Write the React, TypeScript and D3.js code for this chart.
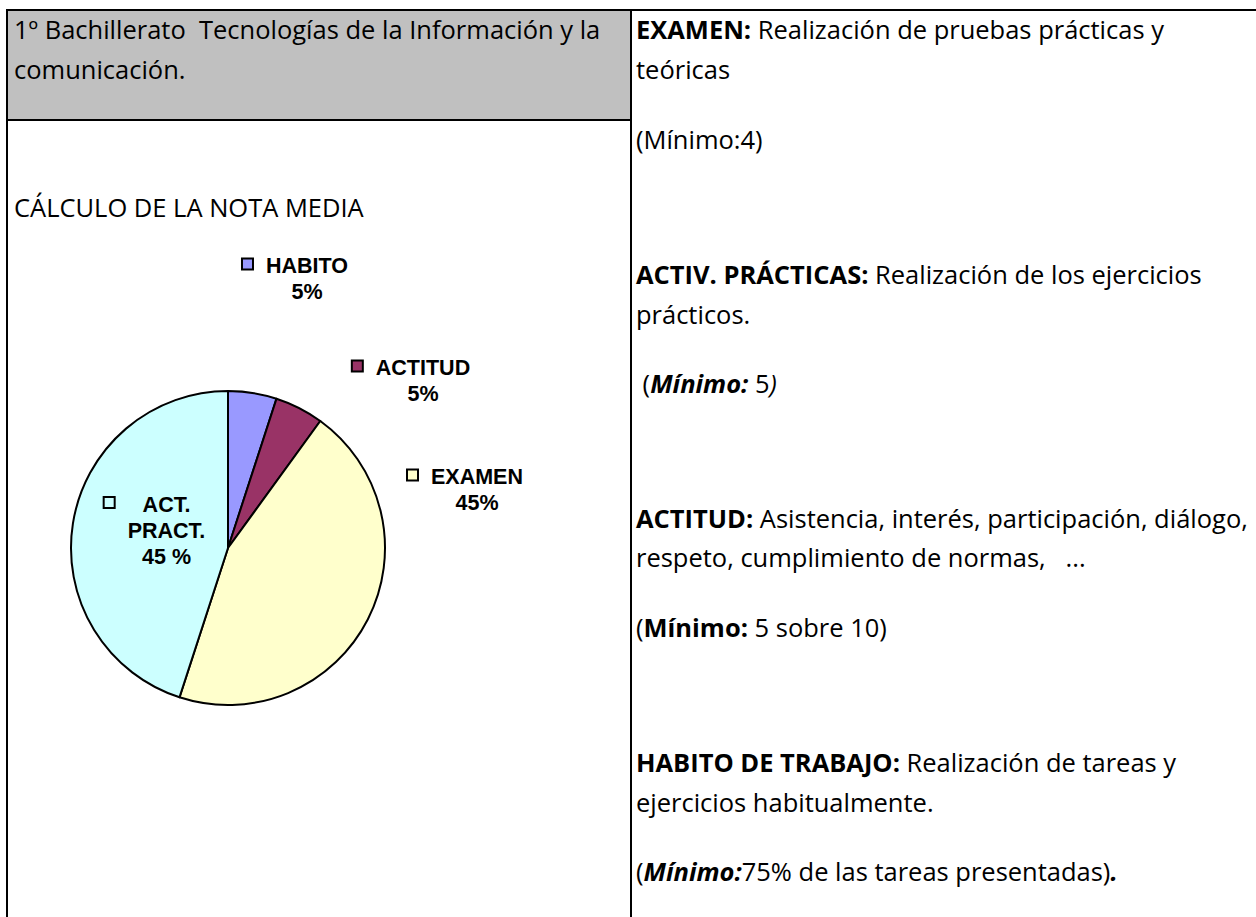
import * as d3 from "d3";
import React, { useEffect } from "react";

// pie data
const categories = ["HABITO", "ACTITUD", "EXAMEN", "ACT. PRACT."];
const values = [5, 5, 45, 45];
const valueLabels = ["5%", "5%", "45%", "45 %"];
const colors = ["#9999FF", "#993366", "#FFFFCC", "#CCFFFF"];

// text of the table
const headerLines = ["1º Bachillerato  Tecnologías de la Información y la", "comunicación."];
const chartTitle = "CÁLCULO DE LA NOTA MEDIA";

type Seg = { t: string; b?: boolean; i?: boolean };
const rightLines: Seg[][] = [
  [{ t: "EXAMEN:", b: true }, { t: " Realización de pruebas prácticas y" }],
  [{ t: "teóricas" }],
  [{ t: "(Mínimo:4)" }],
  [{ t: "ACTIV. PRÁCTICAS:", b: true }, { t: " Realización de los ejercicios" }],
  [{ t: "prácticos." }],
  [{ t: " (" }, { t: "Mínimo:", b: true, i: true }, { t: " 5" }, { t: ")", i: true }],
  [{ t: "ACTITUD:", b: true }, { t: " Asistencia, interés, participación, diálogo," }],
  [{ t: "respeto, cumplimiento de normas,   ..." }],
  [{ t: "(" }, { t: "Mínimo:", b: true }, { t: " 5 sobre 10)" }],
  [{ t: "HABITO DE TRABAJO:", b: true }, { t: " Realización de tareas y" }],
  [{ t: "ejercicios habitualmente." }],
  [{ t: "(" }, { t: "Mínimo:", b: true, i: true }, { t: "75% de las tareas presentadas)" }, { t: ".", b: true, i: true }],
];

// layout
const W = 1256;
const H = 917;
const colX = 631;
const tableTop = 10;
const tableLeft = 7;
const headerBottom = 120;
const rightBaselines = [39, 78.5, 148.5, 284, 323.5, 393, 527.5, 567, 636.5, 772, 811.5, 881];
const bodyFont = "'Open Sans', Lato, sans-serif";
const fitLine = 6; // ACTITUD line, spans ~612px in the reference
const fitWidth = 612;
const labelFont = "'Liberation Sans', Arial, sans-serif";
const labelSize = 21.5;

const pieCenter = { x: 228, y: 548 };
const pieRadius = 157;
// label anchor (centre of block, first baseline) relative to pie centre
const labelOffsets = [
  { dx: 79, dy: -275 },
  { dx: 195, dy: -173 },
  { dx: 249, dy: -64 },
  { dx: -61.5, dy: -36.5 },
];

const ctx = document.createElement("canvas").getContext("2d")!;
const measureLabel = (s: string) => {
  ctx.font = `bold ${labelSize}px ${labelFont}`;
  return ctx.measureText(s).width;
};
const measureSegs = (segs: Seg[], size: number) =>
  d3.sum(segs, (s) => {
    ctx.font = `${s.i ? "italic " : ""}${s.b ? "bold " : ""}${size}px ${bodyFont}`;
    return ctx.measureText(s.t).width;
  });

const App = () => {
  useEffect(() => {
    document.body.style.margin = "0";
    document.body.style.overflow = "hidden";
  }, []);

  const bodySize = Math.min(28, (20 * fitWidth) / measureSegs(rightLines[fitLine], 20));

  const pie = d3
    .pie<number>()
    .sort(null)
    .value((d) => d);
  const arcs = pie(values);
  const arc = d3.arc<d3.PieArcDatum<number>>().innerRadius(0).outerRadius(pieRadius);

  return (
    <svg width={W} height={H} style={{ position: "absolute", left: 0, top: 0, background: "#fff" }}>
      {/* header cell */}
      <rect x={tableLeft} y={tableTop} width={colX - tableLeft} height={headerBottom - tableTop} fill="#C0C0C0" />
      <g stroke="#000" strokeWidth={2}>
        <line x1={tableLeft - 1} x2={W} y1={tableTop} y2={tableTop} />
        <line x1={tableLeft} x2={tableLeft} y1={tableTop} y2={H} />
        <line x1={colX} x2={colX} y1={tableTop} y2={H} />
        <line x1={tableLeft} x2={colX} y1={headerBottom} y2={headerBottom} />
      </g>

      <g fontFamily={bodyFont} fontSize={bodySize} fill="#000">
        {headerLines.map((l, i) => (
          <text key={i} x={14} y={rightBaselines[i]} xmlSpace="preserve" style={{ whiteSpace: "pre" }}>
            {l}
          </text>
        ))}
        <text x={14} y={217}>
          {chartTitle}
        </text>
        {rightLines.map((segs, i) => (
          <text key={i} x={636} y={rightBaselines[i]} xmlSpace="preserve" style={{ whiteSpace: "pre" }}>
            {segs.map((s, j) => (
              <tspan key={j} fontWeight={s.b ? "bold" : "normal"} fontStyle={s.i ? "italic" : "normal"}>
                {s.t}
              </tspan>
            ))}
          </text>
        ))}
      </g>

      {/* pie */}
      <g transform={`translate(${pieCenter.x},${pieCenter.y})`}>
        {arcs.map((a, i) => (
          <path key={i} d={arc(a) ?? ""} fill={colors[i]} stroke="#000" strokeWidth={2} strokeLinejoin="round" />
        ))}
        {arcs.map((a, i) => {
          const lines = i === 3 ? ["ACT.", "PRACT.", valueLabels[i]] : [categories[i], valueLabels[i]];
          const o = labelOffsets[i];
          const maxW = d3.max(lines, (l) => measureLabel(l)) ?? 0;
          const keyX = o.dx - maxW / 2 - 12 - 12;
          return (
            <g key={"l" + i}>
              <rect x={keyX} y={o.dy - 14.5} width={11} height={11} fill={colors[i]} stroke="#000" strokeWidth={2} />
              <text fontFamily={labelFont} fontSize={labelSize} fontWeight="bold" textAnchor="middle" fill="#000">
                {lines.map((l, k) => (
                  <tspan key={k} x={o.dx} y={o.dy + k * 26}>
                    {l}
                  </tspan>
                ))}
              </text>
            </g>
          );
        })}
      </g>
    </svg>
  );
};

export default App;
